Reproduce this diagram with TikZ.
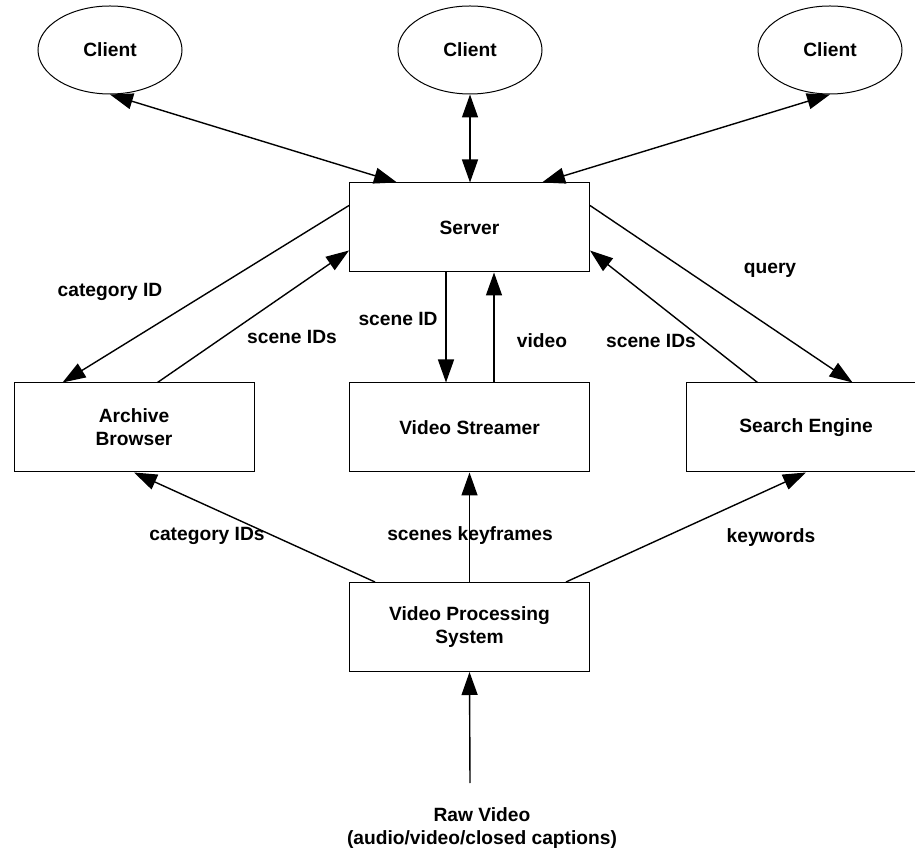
\documentclass[tikz,border=0pt]{standalone}
\usepackage{fontspec}
\setmainfont{Liberation Sans}
\usetikzlibrary{arrows.meta,shapes.geometric,calc}
\begin{document}
\begin{tikzpicture}[x=0.5pt,y=-0.5pt,
  font=\fontsize{9.6}{11.5}\selectfont\bfseries,
  box/.style={draw,line width=0.5pt,minimum width=120pt,minimum height=44.5pt,
              inner sep=0pt,align=center},
  client/.style={draw,ellipse,line width=0.5pt,minimum width=72pt,minimum height=44pt,
                 inner sep=0pt},
  flow/.style={line width=0.7pt,-{Triangle[length=11.5pt,width=8pt]}},
  both/.style={line width=0.7pt,{Triangle[length=11.5pt,width=8pt]}-{Triangle[length=11.5pt,width=8pt]}},
  lbl/.style={inner sep=0pt,align=center}]
\clip (0,0) rectangle (915,854);
\fill[white] (0,0) rectangle (915,854);

% clients
\node[client] (cl1) at (110,50) {Client};
\node[client] (cl2) at (470,50) {Client};
\node[client] (cl3) at (830,50) {Client};

% components
\node[box] (srv) at (469.5,227.5) {Server};
\node[box] (arc) at (134,427.5) {Archive\\Browser};
\node[box] (vs)  at (469.5,427.5) {Video Streamer};
\node[box] (se)  at (806,427.5) {Search Engine};
\node[box] (vps) at (469.5,627) {Video Processing\\System};

% raw input
\node[lbl] (raw) at (482,828) {Raw Video\\(audio/video/closed captions)};
\coordinate (rawtop) at (470,783);

% client links
\draw[both] (cl1.south) -- ($(srv.north west)+(48,0)$);
\draw[both] (cl2.south) -- (cl2.south |- srv.north);
\draw[both] (cl3.south) -- ($(srv.north east)+(-48,0)$);

% server <-> archive browser
\draw[flow] ($(srv.north west)+(0,23)$) -- ($(arc.north west)+(49,0)$);
\draw[flow] ($(arc.north west)+(144,0)$) -- ($(srv.north west)+(0,68)$);

% server <-> video streamer
\draw[flow] ($(srv.south west)+(97,0)$) -- ($(vs.north west)+(97,0)$);
\draw[flow] ($(vs.north east)+(-96,0)$) -- ($(srv.south east)+(-96,0)$);

% server <-> search engine
\draw[flow] ($(se.north west)+(72,0)$) -- ($(srv.north east)+(0,68)$);
\draw[flow] ($(srv.north east)+(0,23)$) -- ($(se.north west)+(167,0)$);

% video processing outputs
\draw[flow] ($(vps.north west)+(26,0)$) -- (arc.south);
\draw[flow] (vps.north) -- (vs.south);
\draw[flow] ($(vps.north east)+(-24,0)$) -- (se.south);
\draw[flow] (rawtop) -- (vps.south);

% labels
\node[lbl] (l1) at (110,292) {category ID};
\node[lbl] (l2) at (292,337) {scene IDs};
\node[lbl] (l3) at (398,319) {scene ID};
\node[lbl] (l4) at (542,341) {video};
\node[lbl] (l5) at (651,341) {scene IDs};
\node[lbl] (l6) at (770,270) {query};
\node[lbl] (l7) at (207,536) {category IDs};
\node[lbl] (l8) at (470,536) {scenes keyframes};
\node[lbl] (l9) at (771,538) {keywords};
\end{tikzpicture}
\end{document}
